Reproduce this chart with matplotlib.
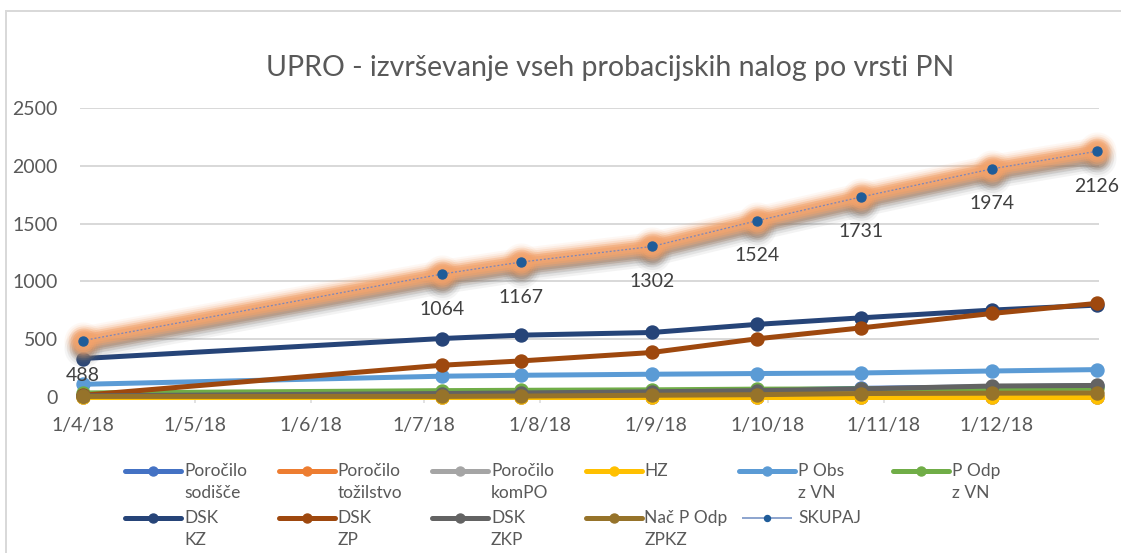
import matplotlib
matplotlib.use("Agg")
import matplotlib.pyplot as plt
import matplotlib.dates as mdates
import matplotlib.transforms as mtransforms
from matplotlib.lines import Line2D
from matplotlib.patches import Rectangle
import datetime as dt

plt.rcParams['font.family'] = ['Lato', 'DejaVu Sans']

# ---------------- data ----------------
dates = ["2018-04-01", "2018-07-06", "2018-07-27", "2018-08-31",
         "2018-09-28", "2018-10-26", "2018-11-30", "2018-12-28"]

porocilo_sodisce = [5, 35, 40, 50, 58, 75, 88, 98]
porocilo_tozilstvo = [0, 0, 0, 0, 1, 2, 2, 3]
porocilo_kompo = [0, 0, 0, 0, 0, 0, 0, 0]
hz = [0, 0, 0, 0, 0, 0, 0, 0]
p_obs_z_vn = [110, 180, 188, 197, 203, 208, 225, 237]
p_odp_z_vn = [35, 55, 58, 62, 68, 70, 72, 75]
dsk_kz = [333, 506, 535, 558, 628, 685, 752, 795]
dsk_zp = [15, 275, 312, 385, 503, 598, 723, 810]
dsk_zkp = [10, 30, 35, 45, 55, 70, 95, 100]
nac_p_odp_zpkz = [5, 5, 8, 15, 20, 30, 33, 35]
skupaj = [488, 1064, 1167, 1302, 1524, 1731, 1974, 2126]

series_names = ["Poročilo\nsodišče", "Poročilo\ntožilstvo", "Poročilo\nkomPO", "HZ",
                "P Obs\nz VN", "P Odp\nz VN", "DSK\nKZ", "DSK\nZP", "DSK\nZKP",
                "Nač P Odp\nZPKZ", "SKUPAJ"]
series_values = [porocilo_sodisce, porocilo_tozilstvo, porocilo_kompo, hz,
                 p_obs_z_vn, p_odp_z_vn, dsk_kz, dsk_zp, dsk_zkp,
                 nac_p_odp_zpkz, skupaj]
colors = ["#4472C4", "#ED7D31", "#A5A5A5", "#FFC000", "#5B9BD5", "#70AD47",
          "#264478", "#9E480E", "#636363", "#96732A"]

title = "UPRO - izvrševanje vseh probacijskih nalog po vrsti PN"
yticks = [0, 500, 1000, 1500, 2000, 2500]

# ---------------- figure ----------------
W, H = 1121, 553
DPI = 100
fig = plt.figure(figsize=(W / DPI, H / DPI), dpi=DPI)
PX = 72.0 / DPI  # points per pixel

ax_l, ax_r, ax_t, ax_b = 80, 1099, 108, 397
ax = fig.add_axes([ax_l / W, 1 - ax_b / H, (ax_r - ax_l) / W, (ax_b - ax_t) / H])

x = [dt.datetime.strptime(d, "%Y-%m-%d") for d in dates]
xn = mdates.date2num(x)

text_col = "#595959"
grid_col = "#D9D9D9"

lw = 5 * PX
ms = 13 * PX
for vals, col in zip(series_values[:-1], colors):
    ax.plot(x, vals, color=col, lw=lw, marker='o', ms=ms, mec=col, mfc=col,
            solid_capstyle='round', clip_on=False, zorder=3)

# SKUPAJ with glow + shadow
sk = series_values[-1]
tr = mtransforms.offset_copy(ax.transData, fig=fig, x=0, y=-7, units='dots')
for a, wpx in [(0.08, 26), (0.12, 21), (0.18, 16), (0.25, 11), (0.3, 7)]:
    ax.plot(x, sk, color="#6A6A6A", lw=wpx * PX, alpha=a, transform=tr,
            solid_capstyle='round', zorder=4, clip_on=False)
    ax.plot(x, sk, ls='none', marker='o', ms=(wpx + 12) * PX, mfc="#6A6A6A", mec='none',
            alpha=a * 0.8, transform=tr, zorder=4, clip_on=False)
for a, wpx in [(0.08, 28), (0.12, 24), (0.2, 20), (0.35, 16), (0.5, 12), (0.5, 8)]:
    ax.plot(x, sk, color="#F4A36B", lw=wpx * PX, alpha=a, solid_capstyle='round',
            zorder=5, clip_on=False)
    ax.plot(x, sk, ls='none', marker='o', ms=(wpx + 10) * PX, mfc="#F4A36B", mec='none',
            alpha=a * 0.9, zorder=5, clip_on=False)
ax.plot(x, sk, color="#7E86B8", lw=1.3 * PX, ls=(0, (1.5, 1.5)), zorder=6, clip_on=False)
ax.plot(x, sk, ls='none', marker='o', ms=9 * PX, mfc="#1F5C99", mec="#1F5C99",
        zorder=7, clip_on=False)

for xi, v in zip(x, sk):
    ax.annotate(str(v), (xi, v), xytext=(0, -35), textcoords='offset pixels',
                ha='center', va='center', fontsize=14, color="#404040", zorder=8)

# axes styling
ax.set_ylim(0, 2500)
ax.set_xlim(xn[0] - 0.8, xn[-1] + 0.5)
ax.set_yticks(yticks)
ax.yaxis.grid(True, color=grid_col, lw=2 * PX)
ax.set_axisbelow(True)
for s in ['left', 'right', 'top']:
    ax.spines[s].set_visible(False)
ax.spines['bottom'].set_color(grid_col)
ax.spines['bottom'].set_linewidth(2 * PX)
ax.tick_params(axis='y', length=0, pad=22 * PX, labelsize=14, labelcolor=text_col)
ax.xaxis.set_major_locator(mdates.MonthLocator(bymonthday=1))
ax.xaxis.set_major_formatter(plt.FuncFormatter(
    lambda v, p: (lambda d: f"{d.day}/{d.month}/{d.year % 100}")(mdates.num2date(v))))
ax.tick_params(axis='x', length=6 * PX, width=1.5 * PX, color=grid_col, direction='out',
               pad=14 * PX, labelsize=14, labelcolor=text_col)

# title
fig.text(610 / W, 1 - 68 / H, title, ha='center', va='center', fontsize=20.5,
         color=text_col)

# border
fig.add_artist(Rectangle((6 / W, -0.1), 1.2, 1 - 11 / H + 0.1, transform=fig.transFigure,
                         fill=False, ec=grid_col, lw=2 * PX))

# manual legend
col_w = 153.5
row_y = [471, 518]
for k in range(len(series_names)):
    r, c = divmod(k, 6)
    hx0 = 125 + col_w * c
    hy = row_y[r]
    if k < 10:
        fig.add_artist(Line2D([hx0 / W, (hx0 + 56) / W], [1 - hy / H, 1 - hy / H],
                              transform=fig.transFigure, color=colors[k], lw=5 * PX,
                              solid_capstyle='round'))
        fig.add_artist(Line2D([(hx0 + 28) / W], [1 - hy / H], transform=fig.transFigure,
                              ls='none', marker='o', ms=9 * PX, color=colors[k]))
    else:
        fig.add_artist(Line2D([(hx0 + 4) / W, (hx0 + 52) / W], [1 - hy / H, 1 - hy / H],
                              transform=fig.transFigure, color="#8FA6CF", lw=2 * PX))
        fig.add_artist(Line2D([(hx0 + 28) / W], [1 - hy / H], transform=fig.transFigure,
                              ls='none', marker='o', ms=6 * PX, color="#1F5C99"))
    for j, ln in enumerate(series_names[k].split("\n")):
        fig.text((hx0 + 59) / W, 1 - (hy + 22 * j) / H, ln, ha='left', va='center',
                 fontsize=12.5, color=text_col)

fig.savefig("out.png", dpi=DPI)
